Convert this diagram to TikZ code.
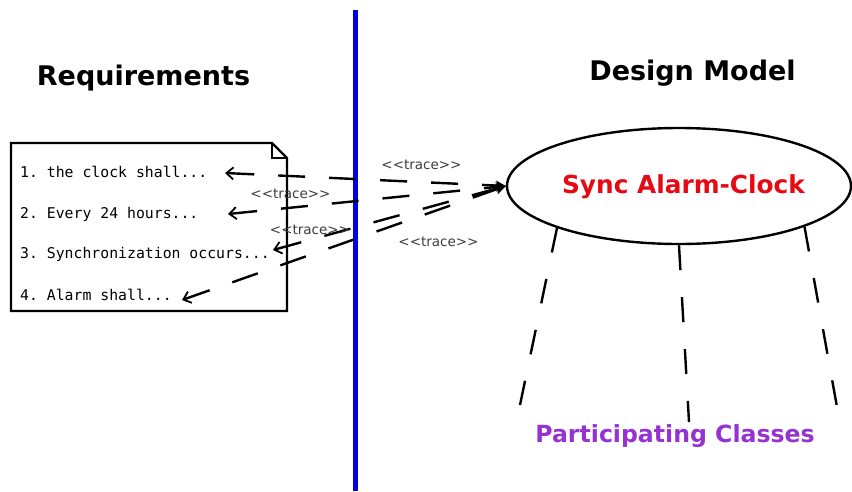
\documentclass[tikz,border=0pt]{standalone}
\usepackage{fontspec}
\setsansfont{DejaVu Sans}[Ligatures=NoCommon]
\setmonofont{DejaVu Sans Mono}
\usetikzlibrary{shapes.geometric,arrows.meta}
\definecolor{syncred}{RGB}{230,10,20}
\definecolor{partpurple}{RGB}{150,50,210}
\definecolor{labgray}{RGB}{60,60,60}
\newcommand{\tracetext}{{<}{<}trace{>}{>}}
\tikzset{
  title/.style={font=\sffamily\bfseries\fontsize{27}{30}\selectfont, anchor=base, inner sep=0},
  reqline/.style={font=\ttfamily\fontsize{14.8}{16}\selectfont, anchor=base west, inner sep=0},
  tracelab/.style={font=\sffamily\fontsize{13.5}{15}\selectfont, text=labgray, inner sep=0},
  tracearrow/.style={line width=2.4pt, dash pattern=on 27pt off 24pt, {Straight Barb[length=7pt,width=12pt,line width=1.8pt]}-{Stealth[length=10pt,width=10pt]}},
  partline/.style={line width=2.4pt, dash pattern=on 25pt off 27pt},
}
\begin{document}
\begin{tikzpicture}[x=1pt,y=-1pt]
\useasboundingbox (0,0) rectangle (852,491);
\fill[white] (0,0) rectangle (852,491);

% titles
\node[title] (reqtitle) at (143.5,85) {Requirements};
\node[title] (destitle) at (692.5,80) {Design Model};

% divider
\draw[blue!90!black, line width=5pt] (355,10) -- (355,491);

% requirements note
\draw[line width=2.4pt, line join=miter] (11,143) -- (272,143) -- (287,158) -- (287,311) -- (11,311) -- cycle;
\draw[line width=1.4pt] (272,143) -- (272,158) -- (287,158);

\node[reqline] (r1) at (20,177) {1. the clock shall...};
\node[reqline] (r2) at (20,218.5) {2. Every 24 hours...};
\node[reqline] (r3) at (20,258.5) {3. Synchronization occurs...};
\node[reqline] (r4) at (20,300.5) {4. Alarm shall...};

\coordinate (t1) at (225,173);
\coordinate (t2) at (228,214);
\coordinate (t3) at (273,250);
\coordinate (t4) at (182,300);

% use case
\node[ellipse, draw, line width=2.4pt, minimum width=344pt, minimum height=116pt, inner sep=0] (uc) at (679,186) {};
\node[font=\sffamily\bfseries\fontsize{24.8}{28}\selectfont, text=syncred, anchor=base, inner sep=0] (uctext) at (683.5,193) {Sync Alarm-Clock};

% trace dependencies
\draw[tracearrow] (t1) -- (uc.west);
\draw[tracearrow] (t2) -- (uc.west);
\draw[tracearrow] (t3) -- (uc.west);
\draw[tracearrow] (t4) -- (uc.west);

\node[tracelab] (l1) at (421.5,165) {\tracetext};
\node[tracelab] (l2) at (290.5,194) {\tracetext};
\node[tracelab] (l3) at (310,230) {\tracetext};
\node[tracelab] (l4) at (438.5,242) {\tracetext};

% participating classes
\coordinate (p1) at (520,405);
\coordinate (p2) at (689,422);
\coordinate (p3) at (837,407);
\draw[partline] (uc.199) -- (p1);
\draw[partline] (uc.south) -- (p2);
\draw[partline] (uc.342) -- (p3);
\node[font=\sffamily\bfseries\fontsize{23.6}{27}\selectfont, text=partpurple, anchor=base, inner sep=0] (parts) at (675,442) {Participating Classes};
\end{tikzpicture}
\end{document}
